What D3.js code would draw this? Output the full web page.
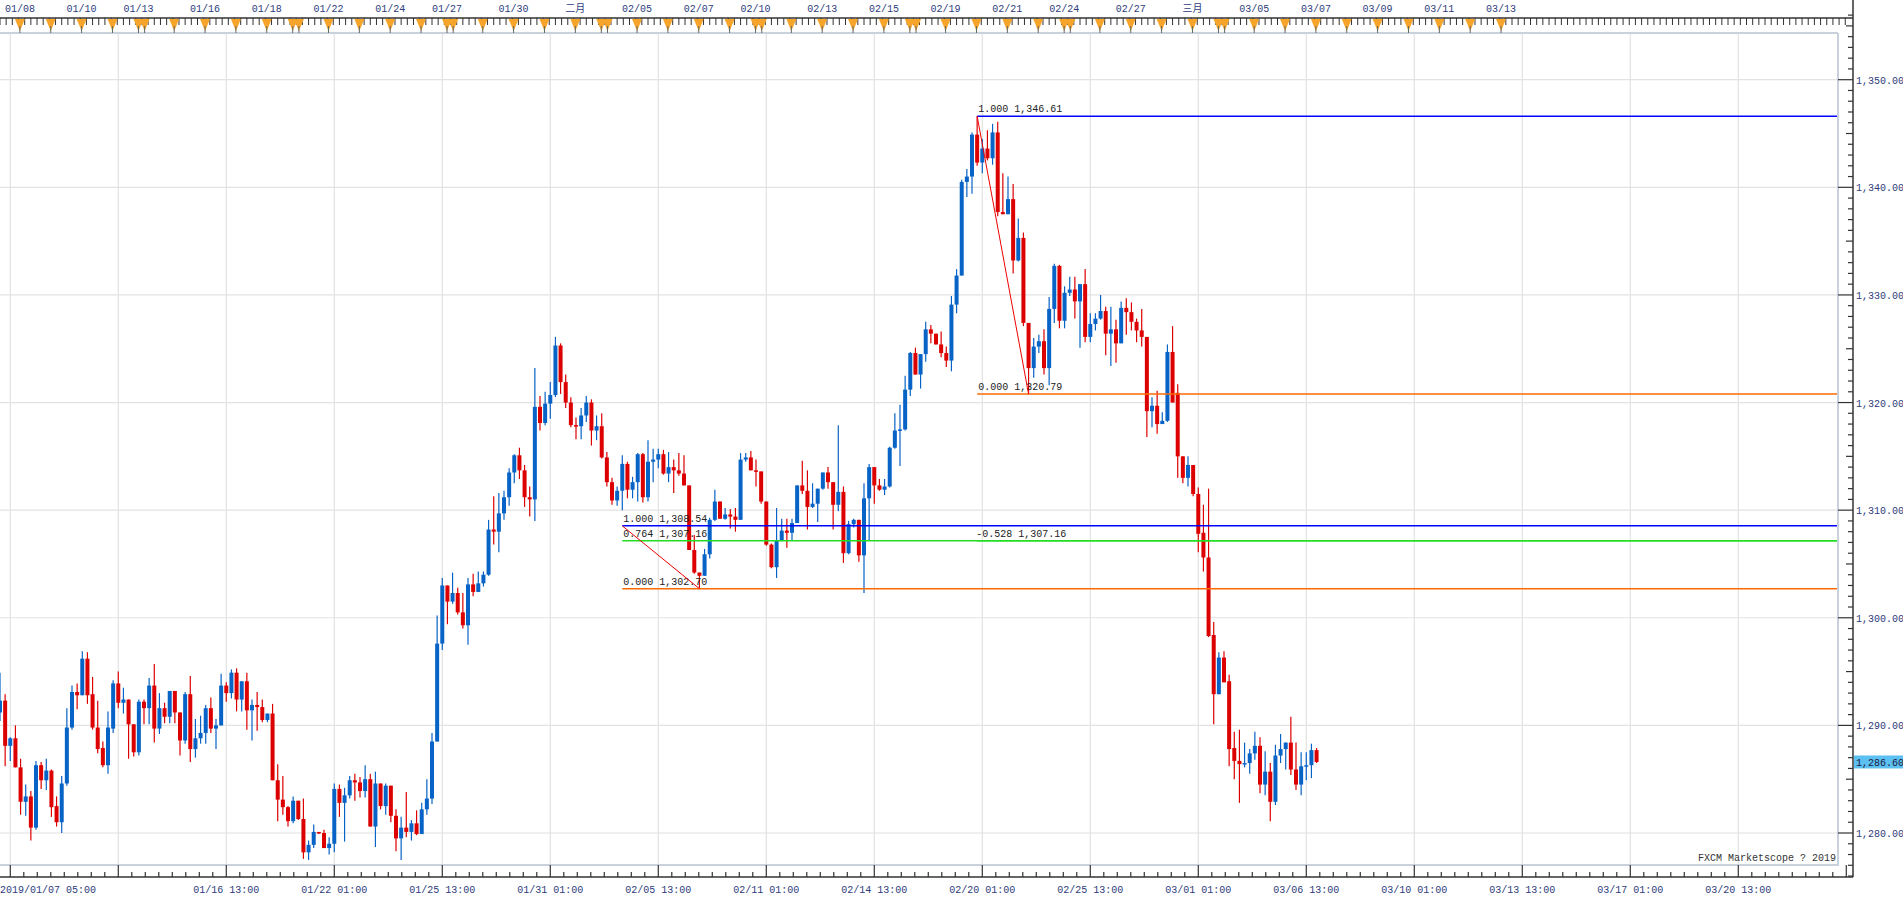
<!DOCTYPE html>
<html>
<head>
<meta charset="utf-8">
<script src="https://cdn.jsdelivr.net/npm/d3@7"></script>
<style>
  body { margin: 0; background: #fff; }
  text { font-family: "Liberation Mono", "DejaVu Sans Mono", monospace; font-size: 10px; }
</style>
</head>
<body>
<svg id="chart" width="1903" height="900"></svg>
<script>
// 4h candles, index 0 = first visible candle
var opens = [1291.2,1292.3,1288.1,1288.8,1286.1,1282.9,1283.4,1280.5,1286.3,1284.9,1285.8,1282.5,1281.0,1284.6,1289.8,1293.1,1292.8,1296.2,1292.9,1289.8,
1287.9,1286.3,1289.7,1293.9,1292.1,1292.4,1290.1,1287.5,1292.2,1291.6,1293.7,1289.7,1291.6,1290.8,1293.2,1291.2,1288.6,1292.9,1287.8,1288.8,
1289.3,1291.6,1289.7,1290.0,1293.7,1293.0,1294.9,1292.4,1294.1,1291.4,1291.9,1291.7,1290.5,1291.1,1284.9,1283.1,1282.4,1281.1,1283.0,1281.3,
1278.2,1278.9,1280.1,1280.0,1278.6,1279.0,1284.1,1282.8,1283.5,1284.9,1284.7,1283.9,1285.0,1280.6,1284.6,1282.5,1284.4,1281.6,1279.5,1280.5,
1280.1,1280.9,1279.9,1282.2,1283.2,1288.5,1297.6,1303.0,1301.5,1302.3,1300.5,1299.3,1303.1,1302.4,1303.2,1304.0,1308.2,1308.0,1309.7,1311.2,
1313.5,1315.1,1313.7,1311.2,1311.0,1319.6,1318.1,1319.9,1320.7,1325.3,1321.9,1320.0,1317.9,1317.8,1318.8,1320.0,1317.4,1317.8,1314.9,1312.6,
1310.9,1311.8,1314.3,1311.9,1312.6,1315.2,1311.2,1314.5,1314.7,1315.2,1313.4,1314.0,1313.7,1313.4,1312.3,1306.3,1304.2,1303.9,1305.9,1309.1,
1310.8,1309.2,1309.6,1309.4,1309.1,1314.7,1314.9,1313.7,1313.6,1310.8,1306.8,1304.7,1307.2,1308.1,1307.9,1308.8,1312.3,1311.8,1310.3,1310.6,
1312.0,1313.5,1312.6,1310.5,1311.7,1306.0,1308.7,1309.1,1305.8,1311.1,1314.0,1312.3,1311.9,1312.2,1315.8,1317.4,1317.5,1321.2,1324.6,1322.6,
1324.5,1326.8,1326.4,1325.4,1324.6,1323.9,1329.1,1331.8,1340.5,1341.0,1344.9,1342.3,1343.6,1342.7,1345.1,1337.7,1337.5,1338.9,1333.2,1335.3,
1327.4,1323.2,1325.2,1325.7,1323.2,1328.7,1332.7,1327.6,1330.2,1330.5,1329.4,1331.0,1326.1,1327.3,1327.8,1328.5,1326.4,1326.8,1325.5,1328.8,
1328.4,1327.5,1326.7,1326.1,1319.2,1319.7,1318.0,1318.3,1324.7,1320.9,1315.0,1313.0,1314.2,1311.5,1307.9,1305.6,1298.4,1292.9,1296.3,1294.1,
1287.9,1286.7,1286.4,1286.5,1287.4,1288.1,1284.5,1285.7,1282.9,1287.2,1287.8,1288.4,1285.9,1284.5,1286.2,1286.3,1287.7];
var highs = [1294.9,1292.9,1288.9,1290.0,1286.9,1284.5,1283.9,1286.7,1286.6,1286.9,1285.9,1283.4,1285.3,1291.6,1293.7,1293.9,1296.9,1296.8,1294.5,1292.3,
1288.5,1291.3,1294.2,1295.0,1293.5,1292.4,1290.1,1292.4,1292.4,1294.4,1295.7,1293.0,1292.1,1293.2,1293.2,1291.2,1293.1,1294.6,1290.6,1290.9,
1291.9,1292.6,1290.6,1294.8,1294.0,1295.2,1295.3,1294.1,1294.9,1292.4,1293.1,1292.4,1291.1,1292.0,1286.4,1285.3,1282.5,1283.4,1283.0,1283.2,
1279.3,1280.8,1280.1,1280.3,1279.6,1284.6,1284.5,1284.2,1285.3,1285.5,1285.2,1286.3,1285.5,1285.7,1284.6,1284.6,1284.4,1282.2,1281.5,1283.8,
1281.2,1282.1,1282.8,1285.0,1289.3,1300.2,1303.7,1303.0,1304.2,1302.8,1302.3,1303.7,1304.1,1304.3,1304.3,1309.1,1311.3,1311.6,1311.8,1313.9,
1315.2,1315.8,1314.2,1312.2,1323.2,1320.6,1321.0,1321.9,1326.1,1325.5,1322.6,1320.5,1318.6,1319.5,1320.6,1320.3,1318.8,1319.0,1315.4,1313.0,
1312.2,1315.1,1314.5,1313.1,1315.3,1315.3,1316.5,1315.7,1315.7,1315.6,1315.4,1314.7,1315.3,1315.1,1312.3,1307.7,1304.2,1306.4,1309.3,1311.9,
1310.8,1310.2,1310.1,1310.2,1315.3,1315.3,1315.5,1314.7,1313.6,1310.8,1306.9,1310.2,1309.2,1309.2,1309.2,1312.3,1314.6,1313.7,1312.5,1312.0,
1313.5,1314.0,1312.6,1317.9,1312.2,1309.0,1309.2,1309.1,1312.5,1314.3,1314.0,1312.9,1312.9,1315.9,1319.0,1319.8,1322.5,1324.7,1325.1,1324.5,
1327.5,1327.2,1326.4,1326.6,1325.2,1329.9,1332.4,1340.7,1341.7,1345.1,1346.61,1344.5,1345.3,1345.9,1346.1,1341.3,1341.0,1340.3,1337.1,1335.8,
1327.4,1326.0,1326.3,1326.8,1329.8,1332.9,1332.8,1330.8,1331.7,1331.7,1331.0,1332.4,1328.3,1328.3,1330.0,1328.9,1328.9,1327.7,1329.4,1329.7,
1329.3,1327.8,1328.7,1326.1,1320.5,1321.1,1319.1,1325.4,1327.1,1321.7,1315.0,1315.0,1314.2,1312.1,1310.5,1312.0,1299.6,1296.8,1296.9,1294.7,
1289.4,1289.6,1288.4,1287.8,1289.4,1288.9,1287.6,1286.5,1288.2,1289.2,1288.4,1290.8,1288.4,1287.5,1287.5,1288.3,1287.9];
var lows = [1290.4,1286.2,1286.7,1286.1,1281.7,1281.6,1279.3,1280.3,1284.1,1284.0,1281.5,1280.6,1280.0,1284.4,1289.6,1291.5,1292.8,1292.0,1289.6,1287.4,
1286.1,1285.5,1289.3,1291.6,1291.1,1286.9,1287.1,1287.2,1290.1,1290.1,1288.4,1289.2,1290.2,1290.2,1290.2,1287.2,1288.3,1286.6,1287.0,1288.3,
1288.3,1289.3,1287.8,1290.0,1292.2,1292.5,1291.3,1291.3,1289.6,1288.6,1289.5,1290.3,1290.3,1284.9,1281.1,1281.7,1280.6,1280.9,1281.2,1277.6,
1277.5,1278.6,1279.9,1278.6,1278.0,1278.2,1281.5,1279.2,1283.2,1283.0,1283.3,1283.3,1280.6,1278.7,1282.2,1281.7,1281.0,1278.3,1277.5,1279.6,
1279.3,1279.8,1279.9,1281.7,1282.7,1288.5,1297.0,1299.4,1301.3,1300.3,1299.0,1297.5,1302.0,1302.4,1302.9,1303.9,1306.8,1306.1,1309.1,1310.4,
1312.5,1312.9,1310.3,1309.4,1309.0,1317.4,1317.9,1318.5,1320.5,1320.8,1319.5,1317.7,1316.6,1316.6,1318.2,1316.0,1316.5,1314.8,1312.2,1310.5,
1310.4,1310.0,1311.1,1311.1,1310.8,1310.7,1310.8,1312.6,1313.9,1313.3,1312.6,1311.6,1313.2,1312.3,1306.3,1304.1,1302.7,1303.9,1305.5,1309.0,
1309.2,1309.1,1308.3,1308.0,1309.1,1314.5,1313.7,1312.2,1310.6,1306.7,1304.6,1303.7,1307.1,1306.5,1307.2,1308.8,1311.5,1308.2,1310.2,1308.9,
1311.9,1312.0,1308.2,1309.9,1305.1,1305.9,1308.4,1305.2,1302.3,1307.2,1310.6,1311.8,1311.4,1312.1,1315.7,1314.1,1317.4,1320.6,1322.6,1321.3,
1323.8,1325.5,1325.4,1324.2,1323.3,1322.9,1328.3,1331.8,1339.1,1339.4,1342.0,1341.3,1342.5,1342.1,1337.3,1337.5,1337.5,1332.0,1333.1,1327.1,
1320.79,1322.3,1324.6,1322.6,1321.6,1327.4,1326.9,1326.9,1329.9,1327.8,1325.1,1325.6,1325.6,1326.7,1327.7,1324.4,1323.4,1323.7,1325.5,1326.3,
1326.7,1325.6,1325.2,1316.8,1317.7,1317.1,1318.0,1318.2,1320.0,1313.0,1312.5,1312.2,1311.3,1306.1,1304.3,1298.2,1290.1,1292.9,1294.0,1286.2,
1285.0,1282.8,1286.1,1285.5,1286.8,1283.7,1283.5,1281.1,1282.6,1286.5,1285.9,1285.4,1284.0,1283.5,1284.9,1285.1,1286.5];
var closes = [1292.3,1288.1,1288.8,1286.1,1282.9,1283.4,1280.5,1286.3,1284.9,1285.8,1282.4,1281.0,1284.6,1289.8,1293.1,1292.8,1296.2,1292.8,1289.8,1287.8,
1286.3,1289.8,1293.9,1292.1,1292.4,1290.1,1287.5,1292.2,1291.6,1293.7,1289.7,1291.6,1290.8,1293.2,1291.2,1288.6,1292.9,1287.8,1288.8,1289.3,
1291.6,1289.7,1290.0,1293.7,1293.0,1294.9,1292.4,1294.1,1291.4,1291.9,1291.7,1290.5,1291.1,1284.9,1283.1,1282.4,1281.1,1283.0,1281.3,1278.2,
1278.9,1280.1,1280.0,1278.6,1279.0,1284.1,1282.8,1283.5,1284.9,1284.7,1283.9,1285.0,1280.6,1284.6,1282.5,1284.4,1281.6,1279.5,1280.5,1280.1,
1280.9,1279.9,1282.2,1283.2,1288.5,1297.6,1303.0,1301.5,1302.3,1300.5,1299.3,1303.1,1302.4,1303.2,1304.0,1308.2,1308.0,1309.7,1311.2,1313.5,
1315.1,1313.7,1311.2,1311.0,1319.6,1318.1,1319.9,1320.7,1325.3,1321.9,1320.0,1317.9,1317.8,1318.8,1320.0,1317.4,1317.8,1314.9,1312.6,1310.9,
1311.8,1314.3,1311.9,1312.6,1315.2,1311.2,1314.5,1314.7,1315.2,1313.4,1314.0,1313.7,1313.4,1312.3,1306.3,1304.2,1303.9,1305.9,1309.1,1310.8,
1309.2,1309.6,1309.4,1309.1,1314.7,1314.9,1313.7,1313.6,1310.8,1306.8,1304.7,1307.2,1308.1,1307.9,1308.8,1312.3,1311.8,1310.3,1310.6,1312.0,
1313.5,1312.6,1310.5,1311.7,1306.0,1308.7,1309.1,1305.8,1311.1,1314.0,1312.3,1311.9,1312.2,1315.8,1317.4,1317.5,1321.2,1324.6,1322.6,1324.5,
1326.8,1326.4,1325.4,1324.6,1323.9,1329.1,1331.8,1340.5,1341.0,1344.9,1342.3,1343.6,1342.7,1345.1,1337.7,1337.5,1338.9,1333.2,1335.3,1327.4,
1323.2,1325.2,1325.7,1323.2,1328.7,1332.7,1327.6,1330.2,1330.5,1329.4,1331.0,1326.1,1327.3,1327.8,1328.5,1326.4,1326.8,1325.5,1328.8,1328.4,
1327.5,1326.7,1326.1,1319.2,1319.7,1318.0,1318.3,1324.7,1320.0,1315.0,1313.0,1314.2,1311.5,1307.8,1305.6,1298.3,1292.9,1296.3,1294.0,1287.8,
1286.7,1286.4,1286.5,1287.4,1288.1,1284.5,1285.7,1282.9,1287.2,1287.8,1288.4,1285.9,1284.5,1286.2,1286.3,1287.7,1286.6];

// bottom time axis: candle index + label
var bottomTickIdx = [2,23,44,65,86,107,128,149,170,191,212,233,254,275,296,317,338];
var bottomLabels = ["2019/01/07 05:00","","01/16 13:00","01/22 01:00","01/25 13:00","01/31 01:00","02/05 13:00","02/11 01:00","02/14 13:00",
  "02/20 01:00","02/25 13:00","03/01 01:00","03/06 13:00","03/10 01:00","03/13 13:00","03/17 01:00","03/20 13:00"];
// top date axis: trading day slot + label
var topLabelDay = [0,2,4,7,9,12,14,16,19,21,24,26,28,31,33,36,38,40,43,45,48,50,52,54,56];
var topLabels = ["01/08","01/10","01/13","01/16","01/18","01/22","01/24","01/27","01/30","二月","02/05","02/07","02/10","02/13",
  "02/15","02/19","02/21","02/24","02/27","三月","03/05","03/07","03/09","03/11","03/13"];
var priceTicks = [1280,1290,1300,1310,1320,1330,1340,1350];
var lastPrice = 1286.60;
// fibonacci retracements
var fibs = [
  {from:121, to:136, hi:1308.54, lo:1302.70, levels:[{r:"1.000",p:1308.54,c:"#0000ff"},{r:"0.764",p:1307.16,c:"#22dd22"},{r:"0.000",p:1302.70,c:"#ff6a00"}]},
  {from:190, to:200, hi:1346.61, lo:1320.79, levels:[{r:"1.000",p:1346.61,c:"#0000ff"},{r:"0.000",p:1320.79,c:"#ff6a00"},{r:"-0.528",p:1307.16,c:"#22dd22"}]}
];

var W = 1903, H = 900;
var plotR = 1838, plotT = 34, plotB = 865, axisX = 1853, axisY = 877;
var svg = d3.select("#chart");
svg.append("rect").attr("width", W).attr("height", H).attr("fill", "#fff");

var x = d3.scaleLinear().domain([0, 21]).range([0, 108]);
var y = d3.scaleLinear().domain([1280, 1350]).range([833, 79.7]);
var fmt = d3.format(",.2f");

svg.append("defs").append("clipPath").attr("id", "plotclip")
  .append("rect").attr("x", 0).attr("y", plotT).attr("width", plotR).attr("height", plotB - plotT);

// grid
var grid = svg.append("g").attr("stroke", "#e2e2e2").attr("stroke-width", 1.2);
grid.selectAll(".vg").data(bottomTickIdx).enter().append("line")
  .attr("x1", function(d) { return x(d); }).attr("x2", function(d) { return x(d); })
  .attr("y1", plotT).attr("y2", plotB);
grid.selectAll(".hg").data(priceTicks).enter().append("line")
  .attr("x1", 0).attr("x2", plotR)
  .attr("y1", function(d) { return y(d); }).attr("y2", function(d) { return y(d); });

// candles
var cg = svg.append("g").attr("clip-path", "url(#plotclip)");
var candles = closes.map(function(c, i) { return {i: i, o: opens[i], h: highs[i], l: lows[i], c: c}; });
var candle = cg.selectAll(".c").data(candles).enter().append("g")
  .attr("fill", function(d) { return d.c >= d.o ? "#0863c6" : "#dd0000"; })
  .attr("stroke", function(d) { return d.c >= d.o ? "#0863c6" : "#dd0000"; });
candle.append("line").attr("stroke-width", 1.2)
  .attr("x1", function(d) { return x(d.i); }).attr("x2", function(d) { return x(d.i); })
  .attr("y1", function(d) { return y(d.h); }).attr("y2", function(d) { return y(d.l); });
candle.append("rect").attr("stroke", "none")
  .attr("x", function(d) { return x(d.i) - 2; }).attr("width", 4)
  .attr("y", function(d) { return y(Math.max(d.o, d.c)); })
  .attr("height", function(d) { return Math.max(1.5, Math.abs(y(d.o) - y(d.c))); });

// fibonacci
var fg = svg.append("g").attr("clip-path", "url(#plotclip)");
fibs.forEach(function(f) {
  f.levels.forEach(function(lv) {
    fg.append("line").attr("x1", x(f.from)).attr("x2", plotR)
      .attr("y1", y(lv.p)).attr("y2", y(lv.p)).attr("stroke", lv.c).attr("stroke-width", 1.5);
  });
  f.levels.forEach(function(lv) {
    fg.append("text").attr("x", x(f.from) + (lv.r[0] == "-" ? -1 : 1)).attr("y", y(lv.p) - 4)
      .attr("fill", "#222").text(lv.r + " " + fmt(lv.p));
  });
  fg.append("line").attr("x1", x(f.from)).attr("y1", y(f.hi)).attr("x2", x(f.to)).attr("y2", y(f.lo))
    .attr("stroke", "#ee0000").attr("stroke-width", 1);
});

// plot border
svg.append("line").attr("x1", 0).attr("x2", plotR).attr("y1", plotT - 1).attr("y2", plotT - 1).attr("stroke", "#c9d1dd").attr("stroke-width", 2);
svg.append("line").attr("x1", 0).attr("x2", plotR + 1).attr("y1", plotB).attr("y2", plotB).attr("stroke", "#c9d1dd").attr("stroke-width", 2);
svg.append("line").attr("x1", plotR).attr("x2", plotR).attr("y1", plotT - 1).attr("y2", plotB).attr("stroke", "#c9d1dd").attr("stroke-width", 2);

var ink = "#333";
// right price axis
var ra = svg.append("g").attr("stroke", ink);
ra.append("line").attr("x1", axisX).attr("x2", axisX).attr("y1", 0).attr("y2", axisY).attr("stroke-width", 1.5);
ra.selectAll(".mt").data(d3.range(1276, 1357)).enter().append("line")
  .attr("x1", function(d) { return d % 10 == 0 ? plotR : (d % 5 == 0 ? axisX - 7 : axisX - 5); }).attr("x2", axisX)
  .attr("y1", function(d) { return y(d); }).attr("y2", function(d) { return y(d); })
  .attr("stroke-width", 1.2);
svg.selectAll(".pl").data(priceTicks).enter().append("text")
  .attr("x", axisX + 3).attr("y", function(d) { return y(d) + 4; })
  .attr("fill", "#2d3c7c").text(function(d) { return fmt(d); });
svg.append("rect").attr("x", axisX + 1).attr("y", y(lastPrice) - 6.5).attr("width", W - axisX).attr("height", 13).attr("fill", "#5cc0f2");
svg.append("text").attr("x", axisX + 3).attr("y", y(lastPrice) + 4).attr("fill", "#1a1a3a").text(fmt(lastPrice));

// bottom axis
var ba = svg.append("g").attr("stroke", ink);
ba.append("line").attr("x1", 0).attr("x2", axisX).attr("y1", axisY).attr("y2", axisY).attr("stroke-width", 1.5);
ba.selectAll(".bt").data(d3.range(-8, 8 * 17 + 1)).enter().append("line")
  .attr("x1", function(d) { return x(2 + d * 21 / 8); }).attr("x2", function(d) { return x(2 + d * 21 / 8); })
  .attr("y1", function(d) { return d % 8 == 0 ? plotB : axisY - 5; }).attr("y2", axisY)
  .attr("stroke-width", 1.2);
svg.selectAll(".bl").data(bottomTickIdx).enter().append("text")
  .attr("x", function(d, i) { return i == 0 ? 0 : x(d); })
  .attr("text-anchor", function(d, i) { return i == 0 ? "start" : "middle"; })
  .attr("y", 893).attr("fill", "#2d3c7c")
  .text(function(d, i) { return bottomLabels[i]; });

// top date axis
function daySlot(k) {
  var off = [0, 6, 12, 18, 23.05, 24.25];
  if (k <= 51) return 3.87 + Math.floor(k / 6) * 30 + off[k % 6];
  return 3.87 + 8 * 30 + 18 + (k - 51) * 6;
}
var ta = svg.append("g");
ta.append("line").attr("x1", 0).attr("x2", axisX).attr("y1", 18).attr("y2", 18).attr("stroke", ink).attr("stroke-width", 1.5);
ta.selectAll(".tm").data(d3.range(0, 300)).enter().append("line")
  .attr("x1", function(d) { return x(d * 1.2); }).attr("x2", function(d) { return x(d * 1.2); })
  .attr("y1", 18).attr("y2", 25).attr("stroke", ink).attr("stroke-width", 1);
var days = d3.range(0, 57);
var tri = ta.selectAll(".tr").data(days).enter().append("g")
  .attr("transform", function(d) { return "translate(" + x(daySlot(d)) + ",0)"; });
tri.append("path").attr("d", "M-5,19L5,19L0,31Z").attr("fill", "#f7a52a");
tri.append("line").attr("y1", 26).attr("y2", 33).attr("stroke", "#666").attr("stroke-width", 1);
ta.selectAll(".tl").data(topLabelDay).enter().append("text")
  .attr("x", function(d) { return x(daySlot(d)); }).attr("y", 12)
  .attr("text-anchor", "middle").attr("fill", "#2d3c7c")
  .style("font-family", function(d, i) { return /月/.test(topLabels[i]) ? "Noto Sans CJK SC" : null; })
  .text(function(d, i) { return topLabels[i]; });

svg.append("text").attr("x", plotR - 2).attr("y", 861).attr("text-anchor", "end")
  .attr("fill", "#333").text("FXCM Marketscope ? 2019");
</script>
</body>
</html>
